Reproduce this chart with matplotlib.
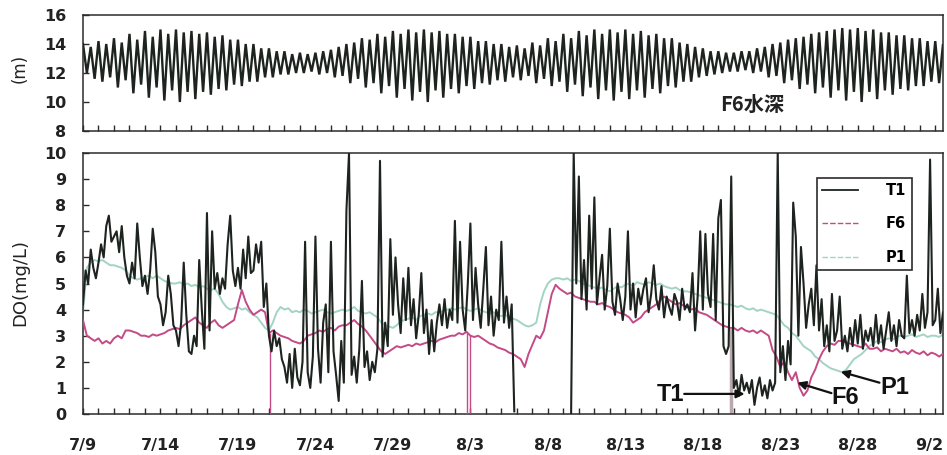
import numpy as np
import matplotlib
matplotlib.use("Agg")
import matplotlib.pyplot as plt
from matplotlib.lines import Line2D
import matplotlib.transforms as mtransforms

# ---------------- data ----------------
date_labels = ["7/9", "7/14", "7/19", "7/24", "7/29", "8/3", "8/8",
               "8/13", "8/18", "8/23", "8/28", "9/2"]
date_days = [0, 5, 10, 15, 20, 25, 30, 35, 40, 45, 50, 55]

# F6 water depth (m): two high waters and two low waters per day
tide_high = [
    14.0, 13.8, 14.2, 14.0, 14.4, 14.1, 14.7, 14.3, 14.9, 14.5,
    15.0, 14.7, 15.0, 14.8, 14.9, 14.7, 14.8, 14.5, 14.6, 14.3,
    14.3, 14.0, 14.0, 13.7, 13.7, 13.5, 13.5, 13.3, 13.4, 13.3,
    13.4, 13.5, 13.6, 13.8, 14.0, 14.1, 14.4, 14.3, 14.7, 14.5,
    14.9, 14.7, 15.0, 14.8, 15.0, 14.8, 14.9, 14.7, 14.7, 14.5,
    14.5, 14.2, 14.2, 14.0, 14.0, 13.8, 13.9, 13.7, 14.1, 13.9,
    14.4, 14.2, 14.7, 14.4, 14.9, 14.6, 15.0, 14.7, 15.0, 14.8,
    15.0, 14.7, 14.9, 14.6, 14.7, 14.4, 14.4, 14.1, 14.0, 13.8,
    13.7, 13.5, 13.5, 13.4, 13.4, 13.5, 13.5, 13.7, 13.8, 14.0,
    14.1, 14.3, 14.4, 14.5, 14.7, 14.8, 14.9, 15.0, 15.1, 15.0,
    15.1, 14.9, 15.0, 14.8, 14.8, 14.6, 14.6, 14.4, 14.4, 14.2,
    14.2, 14.0]
tide_low = [
    12.0, 11.6, 11.4, 11.7, 11.0, 11.5, 10.6, 11.2, 10.3, 11.0,
    10.1, 10.8, 10.0, 10.7, 10.2, 10.7, 10.5, 10.9, 10.8, 11.2,
    11.1, 11.4, 11.4, 11.7, 11.7, 11.9, 11.9, 12.0, 12.0, 12.1,
    11.9, 12.0, 11.7, 11.8, 11.3, 11.6, 11.0, 11.3, 10.6, 11.1,
    10.3, 10.9, 10.1, 10.7, 10.0, 10.8, 10.3, 10.9, 10.6, 11.1,
    10.9, 11.3, 11.2, 11.5, 11.4, 11.7, 11.5, 11.8, 11.3, 11.6,
    11.1, 11.4, 10.7, 11.2, 10.4, 11.0, 10.2, 10.8, 10.1, 10.7,
    10.2, 10.8, 10.3, 10.9, 10.6, 11.1, 11.0, 11.4, 11.4, 11.7,
    11.8, 11.9, 12.0, 12.1, 12.1, 12.2, 12.0, 12.1, 11.7, 11.8,
    11.3, 11.5, 10.9, 11.2, 10.6, 11.0, 10.3, 10.8, 10.1, 10.7,
    10.0, 10.7, 10.2, 10.8, 10.5, 10.9, 10.8, 11.1, 11.1, 11.4,
    11.3, 11.6]

# T1 DO (mg/L), 6 samples per day (every 4 h); nan = no record
nan = np.nan
t1_do = [
    4.2, 5.5, 5.0, 6.3, 5.6, 5.2,
    5.8, 6.5, 6.0, 7.2, 7.6, 6.6,
    6.8, 7.0, 6.2, 7.2, 6.0, 5.3,
    5.0, 5.8, 5.2, 7.3, 6.0, 4.9,
    5.3, 4.6, 5.5, 7.1, 6.2, 4.5,
    4.2, 3.4, 3.9, 5.3, 4.6, 3.4,
    3.2, 2.6, 3.5, 5.8, 3.8, 2.4,
    2.3, 3.0, 2.6, 5.9, 4.0, 2.5,
    7.7, 3.2, 7.0, 4.8, 5.4, 4.6,
    5.2, 4.8, 6.5, 7.6, 5.5, 4.9,
    5.6, 4.8, 6.3, 5.2, 6.8, 5.4,
    5.5, 6.5, 5.8, 6.6, 4.1, 5.0,
    3.0, 2.4, 3.2, 2.6, 2.9, 2.1,
    1.8, 1.2, 2.3, 1.0, 2.5, 1.4,
    1.1, 2.0, 6.6, 1.6, 1.0, 2.2,
    6.8, 2.5, 1.2, 3.5, 4.2, 1.6,
    6.6, 2.4, 1.5, 0.5, 2.8, 1.2,
    7.8, 10.0, 1.5, 2.2, 1.2, 2.5,
    5.1, 1.8, 2.4, 1.3, 2.0, 1.6,
    2.5, 9.7, 2.2, 3.5, 2.6, 6.7,
    3.8, 6.0, 4.2, 3.1, 5.2, 3.6,
    5.6, 3.4, 4.4, 2.9, 3.8, 5.4,
    3.1, 4.0, 2.3, 3.6, 2.4, 3.5,
    4.2, 3.4, 4.4, 3.3, 4.0, 3.6,
    7.4, 3.5, 6.6, 4.0, 3.2, 5.0,
    7.3, 3.6, 5.6, 4.2, 3.3, 4.8,
    6.4, 3.4, 4.5, 3.0, 4.0, 3.6,
    6.6, 3.5, 4.5, 3.3, 4.2, 0.1,
    nan, nan, nan, nan, nan, nan,
    nan, nan, nan, nan, nan, nan,
    nan, nan, nan, nan, nan, nan,
    nan, nan, nan, 0.0, 10.0, 5.0,
    9.1, 4.4, 5.9, 4.0, 7.6, 4.8,
    8.3, 4.2, 5.2, 6.1, 4.0, 4.9,
    7.1, 4.3, 3.8, 5.0, 4.4, 3.6,
    4.5, 7.0, 4.0, 5.0, 3.7, 4.8,
    4.2, 4.8, 5.2, 3.9, 4.6, 5.7,
    4.4, 4.0, 4.9, 3.7, 4.5, 4.1,
    3.8, 4.6, 4.3, 3.6, 4.8, 4.0,
    4.2, 3.9, 5.4, 3.2, 4.5, 7.0,
    4.0, 6.9, 4.6, 4.1, 6.9, 3.6,
    7.5, 8.2, 2.6, 2.3, 2.6, 9.1,
    1.0, 1.3, 0.7, 1.5, 0.9, 1.2,
    0.8, 1.3, 0.35, 1.0, 1.4, 0.7,
    1.1, 0.6, 1.3, 0.9, 1.2, 10.0,
    1.6, 2.6, 1.3, 2.8, 1.9, 8.1,
    6.8, 3.0, 6.4, 5.0, 3.3, 4.2,
    4.8, 3.4, 5.7, 3.2, 4.4, 2.6,
    3.4, 2.4, 4.6, 2.8, 3.2, 4.5,
    2.5, 3.0, 2.4, 3.3, 2.6, 3.6,
    2.7, 3.8, 2.5, 3.2, 2.8, 3.3,
    2.6, 3.8, 2.7, 3.4, 2.5, 3.2,
    3.9, 2.8, 3.4, 2.6, 3.6, 3.0,
    2.9, 5.3, 3.1, 3.6, 3.0, 3.8,
    3.2, 4.6, 3.3, 3.9, 9.75, 3.4,
    3.6, 4.8, 3.1, 3.9, 3.3, 3.5]

# F6 DO (mg/L), 4 samples per day
f6_do = [
    3.6, 3.0, 2.9, 2.8,  2.9, 2.7, 2.8, 2.7,  2.9, 3.0, 2.9, 3.2,
    3.2, 3.15, 3.1, 3.0,  3.0, 2.95, 3.05, 3.0,  3.05, 3.1, 3.2, 3.25,
    3.3, 3.25, 3.4, 3.5,  3.6, 3.7, 3.5, 3.4,  3.3, 3.5, 3.6, 3.4,
    3.3, 3.4, 3.5, 3.6,  4.2, 4.75, 4.3, 4.0,  3.8, 3.9, 4.0, 3.9,
    3.1, 3.2, 3.1, 3.0,  2.95, 2.9, 2.8, 2.75,  2.7, 2.8, 3.0, 3.05,
    3.1, 3.2, 3.15, 3.25,  3.3, 3.2, 3.35, 3.4,  3.4, 3.5, 3.6, 3.45,
    3.35, 3.2, 3.0, 2.8,  2.6, 2.4, 2.3, 2.4,  2.5, 2.6, 2.55, 2.6,
    2.65, 2.6, 2.7, 2.65,  2.7, 2.75, 2.8, 2.75,  2.85, 2.9, 2.95, 3.0,
    3.0, 3.1, 3.05, 3.15,  3.0, 2.95, 3.0, 2.9,  2.8, 2.7, 2.65, 2.55,
    2.5, 2.45, 2.35, 2.3,  2.2, 2.1, 1.8, 2.3,  2.65, 3.0, 2.9, 3.2,
    3.9, 4.6, 4.95, 4.8,  4.7, 4.6, 4.65, 4.5,  4.45, 4.4, 4.35, 4.3,
    4.3, 4.2, 4.25, 4.15,  4.1, 4.0, 3.9, 3.85,  3.8, 3.7, 3.5, 3.6,
    3.7, 3.9, 4.0, 4.1,  4.2, 4.35, 4.5, 4.4,  4.3, 4.2, 4.25, 4.15,
    4.1, 4.0, 4.05, 3.9,  3.85, 3.8, 3.7, 3.6,  3.5, 3.4, 3.35, 3.3,
    3.3, 3.2, 3.3, 3.2,  3.15, 3.2, 3.1, 3.2,  3.1, 3.0, 2.45, 2.2,
    1.8, 2.0, 1.6, 1.3,  1.6, 1.0, 0.7, 0.9,  1.4, 1.7, 2.1, 2.4,
    2.6, 2.7, 2.65, 2.8,  2.8, 2.75, 2.7, 2.65,  2.6, 2.55, 2.7, 2.5,
    2.5, 2.55, 2.4, 2.5,  2.45, 2.4, 2.5, 2.35,  2.4, 2.3, 2.45, 2.35,
    2.3, 2.4, 2.25, 2.35,  2.3, 2.2, 2.3, 2.25]
f6_dropout_days = [12.05, 24.77, 24.97]
f6_dropout_gray_day = 41.8

# P1 DO (mg/L), 4 samples per day
p1_do = [
    3.9, 5.6, 5.8, 5.9,  5.85, 5.9, 5.8, 5.7,  5.7, 5.65, 5.6, 5.5,
    5.3, 5.2, 5.15, 5.2,  5.25, 5.3, 5.2, 5.3,  5.2, 5.1, 5.05, 5.0,
    5.0, 5.05, 4.95, 5.0,  4.9, 4.95, 4.85, 4.9,  4.8, 4.75, 4.8, 4.6,
    4.3, 4.1, 4.0, 4.05,  4.1, 4.0, 4.05, 3.9,  3.8, 3.7, 3.5, 3.3,
    3.2, 3.5, 3.9, 4.1,  4.0, 4.05, 3.9, 3.95,  3.9, 4.0, 3.95, 3.85,
    3.9, 3.95, 4.0, 3.9,  3.85, 3.9, 3.95, 4.0,  3.95, 4.0, 4.1, 3.95,
    3.9, 3.85, 3.9, 3.8,  3.7, 3.5, 3.4, 3.35,  3.3, 3.4, 3.55, 3.6,
    3.65, 3.7, 3.6, 3.75,  3.8, 3.85, 3.8, 3.9,  3.9, 3.95, 4.0, 4.05,
    4.0, 4.05, 4.1, 4.0,  3.95, 4.0, 4.05, 3.95,  3.9, 3.85, 3.9, 3.8,
    3.75, 3.8, 3.7, 3.65,  3.6, 3.5, 3.4, 3.35,  3.4, 3.5, 4.2, 4.7,
    5.0, 5.15, 5.2, 5.2,  5.15, 5.2, 5.1, 5.15,  5.1, 5.0, 4.95, 4.9,
    4.85, 4.8, 4.85, 4.75,  4.7, 4.8, 4.9, 4.85,  4.95, 5.0, 4.9, 5.05,
    5.0, 4.95, 5.05, 5.0,  4.95, 5.0, 4.9, 4.85,  4.8, 4.85, 4.75, 4.7,
    4.7, 4.65, 4.6, 4.55,  4.5, 4.45, 4.4, 4.35,  4.3, 4.25, 4.2, 4.2,
    4.15, 4.1, 4.15, 4.05,  4.0, 4.05, 3.95, 4.0,  3.95, 3.9, 3.85, 3.8,
    3.6, 3.4, 3.3, 3.1,  3.0, 2.8, 2.6, 2.5,  2.4, 2.2, 2.1, 1.95,
    1.85, 1.75, 1.7, 1.65,  1.6, 1.7, 1.9, 2.1,  2.2, 2.3, 2.45, 2.6,
    2.7, 2.8, 2.75, 2.85,  2.9, 2.85, 2.95, 3.0,  2.95, 3.0, 3.05, 2.95,
    3.0, 3.05, 2.95, 3.0,  3.0, 2.95, 3.05, 3.0]

# ---------------- styling ----------------
C_T1 = "#1d231f"
C_F6 = "#c44a86"
C_P1 = "#a3d3c4"
C_GRAY = "#b9a9ae"
C_AX = "#2b2b2b"
TICKFONT = dict(family="DejaVu Sans", weight="bold", size=11.5)

fig = plt.figure(figsize=(9.47, 4.55), dpi=100)
W, H = 947.0, 455.0
ax_top = fig.add_axes([83 / W, 1 - 131 / H, 860 / W, 116 / H])
ax_bot = fig.add_axes([83 / W, 1 - 414 / H, 860 / W, 261 / H])

XMAX = 55.5

def style(ax):
    for s in ax.spines.values():
        s.set_color(C_AX)
        s.set_linewidth(1.1)
    ax.set_xlim(0, XMAX)
    ax.set_xticks(np.arange(0, 56, 1), minor=True)
    ax.tick_params(axis="both", which="both", direction="in", colors=C_AX,
                   length=4, width=1)
    ax.tick_params(axis="y", pad=12)

# ---- top panel: water depth ----
n_half = len(tide_high)
tide_t = []
tide_v = []
for k in range(n_half):
    tide_t.extend([k * 0.5, k * 0.5 + 0.25])
    tide_v.extend([tide_high[k], tide_low[k]])
ax_top.plot(tide_t, tide_v, color=C_T1, lw=1.7, solid_joinstyle="miter")
ax_top.set_ylim(8, 16)
ax_top.set_yticks([8, 10, 12, 14, 16])
ax_top.set_xticks(date_days)
ax_top.set_xticklabels([])
style(ax_top)
ax_top.set_yticklabels(["8", "10", "12", "14", "16"], **TICKFONT, color="#222")
ax_top.text(43.2, 9.85, "F6水深", ha="center", va="center", fontsize=14.5,
            fontweight="bold", color="#222",
            family=["Noto Sans CJK JP", "DejaVu Sans"])
fig.text(20 / W, 1 - 68 / H, "(m)", rotation=90, ha="center", va="center",
         fontsize=12, color="#222")

# ---- bottom panel: DO ----
t1_t = np.arange(len(t1_do)) / 6.0
f6_t = np.arange(len(f6_do)) / 4.0
p1_t = np.arange(len(p1_do)) / 4.0

ax_bot.plot(p1_t, p1_do, color=C_P1, lw=1.4, zorder=2)
ax_bot.plot(f6_t, f6_do, color=C_F6, lw=1.4, zorder=3)
for d in f6_dropout_days:
    ax_bot.vlines(d, 0, np.interp(d, f6_t, f6_do), color=C_F6, lw=1.0, zorder=3)
ax_bot.vlines(f6_dropout_gray_day, 0, np.interp(f6_dropout_gray_day, f6_t, f6_do),
              color=C_GRAY, lw=2.5, zorder=1)
ax_bot.plot(t1_t, t1_do, color=C_T1, lw=1.5, zorder=4)

ax_bot.set_ylim(0, 10)
ax_bot.set_yticks(range(0, 11))
ax_bot.set_xticks(date_days)
style(ax_bot)
ax_bot.set_yticklabels([str(v) for v in range(0, 11)], **TICKFONT, color="#222")
ax_bot.set_xticklabels(date_labels, **TICKFONT, color="#222")
ax_bot.tick_params(axis="x", pad=17)
# keep the last date label inside the figure
last = ax_bot.get_xticklabels()[-1]
last.set_transform(last.get_transform() +
                   mtransforms.ScaledTranslation(-6 / 100, 0, fig.dpi_scale_trans))
fig.text(20 / W, 1 - 282 / H, "DO(mg/L)", rotation=90, ha="center", va="center",
         fontsize=13, color="#222")

handles = [Line2D([], [], color=C_T1, lw=1.3),
           Line2D([], [], color=C_F6, lw=1.0, ls=(0, (4, 1.5))),
           Line2D([], [], color=C_P1, lw=1.0, ls=(0, (4, 1.5)))]
leg = ax_bot.legend(handles, ["T1", "F6", "P1"], loc="upper left",
                    bbox_to_anchor=(0.853, 0.904), borderaxespad=0,
                    frameon=True, fancybox=False, framealpha=1,
                    edgecolor=C_AX, handlelength=2.5, handletextpad=1.9,
                    labelspacing=1.25, borderpad=0.35,
                    prop=dict(family="DejaVu Sans", weight="bold", size=10.5))
leg.get_frame().set_linewidth(1.2)
leg.set_zorder(10)

ANN = dict(family="Liberation Sans", weight="bold", size=17, color="#111")
arrow = dict(arrowstyle="-|>", color="#111", lw=1.6, mutation_scale=12,
             shrinkA=0, shrinkB=0)
ax_bot.annotate("", xy=(42.7, 0.77), xytext=(38.8, 0.77), arrowprops=arrow, zorder=6)
ax_bot.text(37.9, 0.73, "T1", ha="center", va="center", zorder=6, **ANN)
ax_bot.annotate("", xy=(46.1, 1.2), xytext=(48.3, 0.8), arrowprops=arrow, zorder=6)
ax_bot.text(49.2, 0.65, "F6", ha="center", va="center", zorder=6, **ANN)
ax_bot.annotate("", xy=(48.9, 1.62), xytext=(51.4, 1.2), arrowprops=arrow, zorder=6)
ax_bot.text(52.4, 1.03, "P1", ha="center", va="center", zorder=6, **ANN)

fig.savefig("out.png", dpi=100)
